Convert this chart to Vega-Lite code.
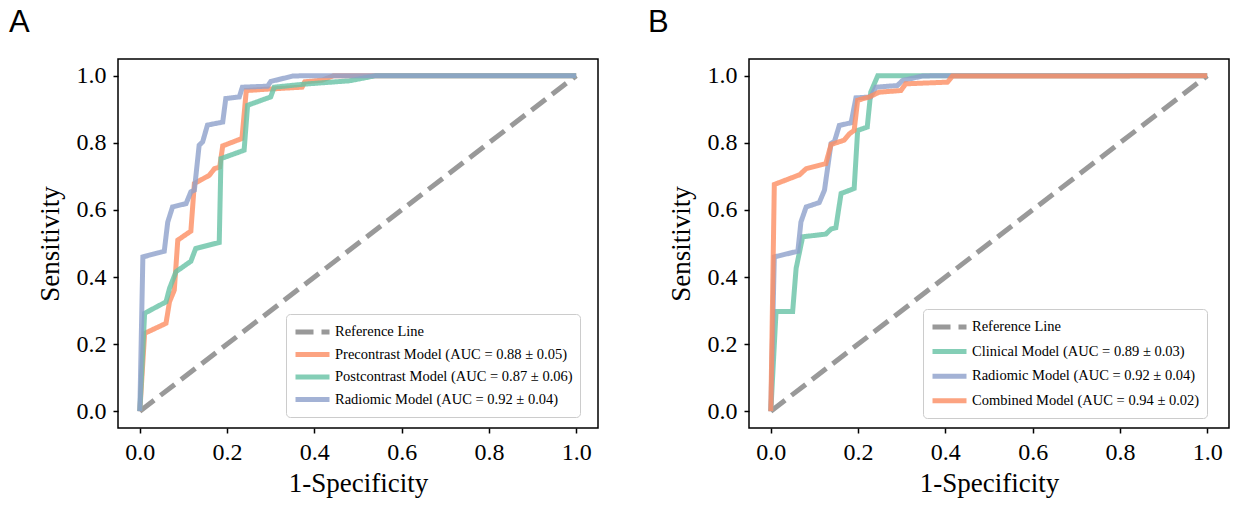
{
  "$schema": "https://vega.github.io/schema/vega-lite/v6.json",
  "background": "white",
  "padding": {"left": 8, "top": 6, "right": 5, "bottom": 2},
  "spacing": 48,
  "resolve": {"scale": {"color": "independent", "strokeDash": "independent"}, "legend": {"color": "independent", "strokeDash": "independent"}},
  "hconcat": [
    {
      "width": 480,
      "height": 369,
      "title": {"text": "A", "anchor": "start", "frame": "group", "dx": -109, "font": "Liberation Sans", "fontSize": 31, "fontWeight": "normal", "color": "black", "offset": 20},
      "data": {"values": [
        {"series": "Reference Line", "i": 0, "x": 0, "y": 0},
        {"series": "Reference Line", "i": 1, "x": 1, "y": 1},
        {"series": "Precontrast Model (AUC = 0.88 ± 0.05)", "i": 0, "x": 0, "y": 0},
        {"series": "Precontrast Model (AUC = 0.88 ± 0.05)", "i": 1, "x": 0.011, "y": 0.232},
        {"series": "Precontrast Model (AUC = 0.88 ± 0.05)", "i": 2, "x": 0.060, "y": 0.262},
        {"series": "Precontrast Model (AUC = 0.88 ± 0.05)", "i": 3, "x": 0.068, "y": 0.326},
        {"series": "Precontrast Model (AUC = 0.88 ± 0.05)", "i": 4, "x": 0.079, "y": 0.361},
        {"series": "Precontrast Model (AUC = 0.88 ± 0.05)", "i": 5, "x": 0.087, "y": 0.510},
        {"series": "Precontrast Model (AUC = 0.88 ± 0.05)", "i": 6, "x": 0.117, "y": 0.537},
        {"series": "Precontrast Model (AUC = 0.88 ± 0.05)", "i": 7, "x": 0.125, "y": 0.679},
        {"series": "Precontrast Model (AUC = 0.88 ± 0.05)", "i": 8, "x": 0.159, "y": 0.703},
        {"series": "Precontrast Model (AUC = 0.88 ± 0.05)", "i": 9, "x": 0.171, "y": 0.723},
        {"series": "Precontrast Model (AUC = 0.88 ± 0.05)", "i": 10, "x": 0.183, "y": 0.728},
        {"series": "Precontrast Model (AUC = 0.88 ± 0.05)", "i": 11, "x": 0.190, "y": 0.791},
        {"series": "Precontrast Model (AUC = 0.88 ± 0.05)", "i": 12, "x": 0.234, "y": 0.813},
        {"series": "Precontrast Model (AUC = 0.88 ± 0.05)", "i": 13, "x": 0.244, "y": 0.956},
        {"series": "Precontrast Model (AUC = 0.88 ± 0.05)", "i": 14, "x": 0.304, "y": 0.961},
        {"series": "Precontrast Model (AUC = 0.88 ± 0.05)", "i": 15, "x": 0.372, "y": 0.966},
        {"series": "Precontrast Model (AUC = 0.88 ± 0.05)", "i": 16, "x": 0.378, "y": 0.982},
        {"series": "Precontrast Model (AUC = 0.88 ± 0.05)", "i": 17, "x": 0.418, "y": 0.987},
        {"series": "Precontrast Model (AUC = 0.88 ± 0.05)", "i": 18, "x": 0.444, "y": 1.0},
        {"series": "Precontrast Model (AUC = 0.88 ± 0.05)", "i": 19, "x": 1, "y": 1},
        {"series": "Postcontrast Model (AUC = 0.87 ± 0.06)", "i": 0, "x": 0, "y": 0},
        {"series": "Postcontrast Model (AUC = 0.87 ± 0.06)", "i": 1, "x": 0.011, "y": 0.292},
        {"series": "Postcontrast Model (AUC = 0.87 ± 0.06)", "i": 2, "x": 0.060, "y": 0.326},
        {"series": "Postcontrast Model (AUC = 0.87 ± 0.06)", "i": 3, "x": 0.068, "y": 0.366},
        {"series": "Postcontrast Model (AUC = 0.87 ± 0.06)", "i": 4, "x": 0.083, "y": 0.416},
        {"series": "Postcontrast Model (AUC = 0.87 ± 0.06)", "i": 5, "x": 0.117, "y": 0.447},
        {"series": "Postcontrast Model (AUC = 0.87 ± 0.06)", "i": 6, "x": 0.128, "y": 0.485},
        {"series": "Postcontrast Model (AUC = 0.87 ± 0.06)", "i": 7, "x": 0.182, "y": 0.503},
        {"series": "Postcontrast Model (AUC = 0.87 ± 0.06)", "i": 8, "x": 0.186, "y": 0.753},
        {"series": "Postcontrast Model (AUC = 0.87 ± 0.06)", "i": 9, "x": 0.239, "y": 0.778},
        {"series": "Postcontrast Model (AUC = 0.87 ± 0.06)", "i": 10, "x": 0.247, "y": 0.912},
        {"series": "Postcontrast Model (AUC = 0.87 ± 0.06)", "i": 11, "x": 0.300, "y": 0.937},
        {"series": "Postcontrast Model (AUC = 0.87 ± 0.06)", "i": 12, "x": 0.308, "y": 0.966},
        {"series": "Postcontrast Model (AUC = 0.87 ± 0.06)", "i": 13, "x": 0.376, "y": 0.975},
        {"series": "Postcontrast Model (AUC = 0.87 ± 0.06)", "i": 14, "x": 0.480, "y": 0.985},
        {"series": "Postcontrast Model (AUC = 0.87 ± 0.06)", "i": 15, "x": 0.540, "y": 1.0},
        {"series": "Postcontrast Model (AUC = 0.87 ± 0.06)", "i": 16, "x": 1, "y": 1},
        {"series": "Radiomic Model (AUC = 0.92 ± 0.04)", "i": 0, "x": 0, "y": 0},
        {"series": "Radiomic Model (AUC = 0.92 ± 0.04)", "i": 1, "x": 0.007, "y": 0.460},
        {"series": "Radiomic Model (AUC = 0.92 ± 0.04)", "i": 2, "x": 0.056, "y": 0.477},
        {"series": "Radiomic Model (AUC = 0.92 ± 0.04)", "i": 3, "x": 0.064, "y": 0.564},
        {"series": "Radiomic Model (AUC = 0.92 ± 0.04)", "i": 4, "x": 0.075, "y": 0.609},
        {"series": "Radiomic Model (AUC = 0.92 ± 0.04)", "i": 5, "x": 0.106, "y": 0.619},
        {"series": "Radiomic Model (AUC = 0.92 ± 0.04)", "i": 6, "x": 0.117, "y": 0.654},
        {"series": "Radiomic Model (AUC = 0.92 ± 0.04)", "i": 7, "x": 0.125, "y": 0.659},
        {"series": "Radiomic Model (AUC = 0.92 ± 0.04)", "i": 8, "x": 0.136, "y": 0.793},
        {"series": "Radiomic Model (AUC = 0.92 ± 0.04)", "i": 9, "x": 0.144, "y": 0.803},
        {"series": "Radiomic Model (AUC = 0.92 ± 0.04)", "i": 10, "x": 0.155, "y": 0.853},
        {"series": "Radiomic Model (AUC = 0.92 ± 0.04)", "i": 11, "x": 0.190, "y": 0.862},
        {"series": "Radiomic Model (AUC = 0.92 ± 0.04)", "i": 12, "x": 0.197, "y": 0.932},
        {"series": "Radiomic Model (AUC = 0.92 ± 0.04)", "i": 13, "x": 0.228, "y": 0.937},
        {"series": "Radiomic Model (AUC = 0.92 ± 0.04)", "i": 14, "x": 0.235, "y": 0.966},
        {"series": "Radiomic Model (AUC = 0.92 ± 0.04)", "i": 15, "x": 0.293, "y": 0.969},
        {"series": "Radiomic Model (AUC = 0.92 ± 0.04)", "i": 16, "x": 0.300, "y": 0.983},
        {"series": "Radiomic Model (AUC = 0.92 ± 0.04)", "i": 17, "x": 0.350, "y": 0.999},
        {"series": "Radiomic Model (AUC = 0.92 ± 0.04)", "i": 18, "x": 0.370, "y": 1.0},
        {"series": "Radiomic Model (AUC = 0.92 ± 0.04)", "i": 19, "x": 1, "y": 1}
      ]},
      "mark": {"type": "line", "strokeWidth": 5, "opacity": 0.8, "strokeJoin": "miter"},
      "encoding": {
        "x": {"field": "x", "type": "quantitative", "scale": {"domain": [-0.05, 1.05], "nice": false, "zero": false}, "axis": {"values": [0, 0.2, 0.4, 0.6, 0.8, 1], "format": ".1f", "title": "1-Specificity"}},
        "y": {"field": "y", "type": "quantitative", "scale": {"domain": [-0.05, 1.05], "nice": false, "zero": false}, "axis": {"values": [0, 0.2, 0.4, 0.6, 0.8, 1], "format": ".1f", "title": "Sensitivity"}},
        "color": {"field": "series", "type": "nominal",
          "scale": {"domain": ["Reference Line", "Precontrast Model (AUC = 0.88 ± 0.05)", "Postcontrast Model (AUC = 0.87 ± 0.06)", "Radiomic Model (AUC = 0.92 ± 0.04)"], "range": ["#808080", "#fc8d62", "#66c2a5", "#8da0cb"]},
          "legend": {"title": null, "orient": "none", "legendX": 168, "legendY": 255, "rowPadding": 1.5}},
        "strokeDash": {"field": "series", "type": "nominal",
          "scale": {"domain": ["Reference Line", "Precontrast Model (AUC = 0.88 ± 0.05)", "Postcontrast Model (AUC = 0.87 ± 0.06)", "Radiomic Model (AUC = 0.92 ± 0.04)"], "range": [[18, 8], [1, 0], [1, 0], [1, 0]]},
          "legend": {"title": null, "orient": "none", "legendX": 168, "legendY": 255, "rowPadding": 1.5}},
        "order": {"field": "i", "type": "quantitative"}
      }
    },
    {
      "width": 480,
      "height": 369,
      "title": {"text": "B", "anchor": "start", "frame": "group", "dx": -101, "font": "Liberation Sans", "fontSize": 31, "fontWeight": "normal", "color": "black", "offset": 20},
      "data": {"values": [
        {"series": "Reference Line", "i": 0, "x": 0, "y": 0},
        {"series": "Reference Line", "i": 1, "x": 1, "y": 1},
        {"series": "Clinical Model (AUC = 0.89 ± 0.03)", "i": 0, "x": 0, "y": 0},
        {"series": "Clinical Model (AUC = 0.89 ± 0.03)", "i": 1, "x": 0.012, "y": 0.297},
        {"series": "Clinical Model (AUC = 0.89 ± 0.03)", "i": 2, "x": 0.050, "y": 0.297},
        {"series": "Clinical Model (AUC = 0.89 ± 0.03)", "i": 3, "x": 0.058, "y": 0.426},
        {"series": "Clinical Model (AUC = 0.89 ± 0.03)", "i": 4, "x": 0.073, "y": 0.520},
        {"series": "Clinical Model (AUC = 0.89 ± 0.03)", "i": 5, "x": 0.126, "y": 0.528},
        {"series": "Clinical Model (AUC = 0.89 ± 0.03)", "i": 6, "x": 0.138, "y": 0.543},
        {"series": "Clinical Model (AUC = 0.89 ± 0.03)", "i": 7, "x": 0.149, "y": 0.547},
        {"series": "Clinical Model (AUC = 0.89 ± 0.03)", "i": 8, "x": 0.161, "y": 0.649},
        {"series": "Clinical Model (AUC = 0.89 ± 0.03)", "i": 9, "x": 0.191, "y": 0.664},
        {"series": "Clinical Model (AUC = 0.89 ± 0.03)", "i": 10, "x": 0.199, "y": 0.837},
        {"series": "Clinical Model (AUC = 0.89 ± 0.03)", "i": 11, "x": 0.221, "y": 0.847},
        {"series": "Clinical Model (AUC = 0.89 ± 0.03)", "i": 12, "x": 0.229, "y": 0.951},
        {"series": "Clinical Model (AUC = 0.89 ± 0.03)", "i": 13, "x": 0.245, "y": 1.0},
        {"series": "Clinical Model (AUC = 0.89 ± 0.03)", "i": 14, "x": 1, "y": 1},
        {"series": "Radiomic Model (AUC = 0.92 ± 0.04)", "i": 0, "x": 0, "y": 0},
        {"series": "Radiomic Model (AUC = 0.92 ± 0.04)", "i": 1, "x": 0.008, "y": 0.460},
        {"series": "Radiomic Model (AUC = 0.92 ± 0.04)", "i": 2, "x": 0.062, "y": 0.477},
        {"series": "Radiomic Model (AUC = 0.92 ± 0.04)", "i": 3, "x": 0.069, "y": 0.564},
        {"series": "Radiomic Model (AUC = 0.92 ± 0.04)", "i": 4, "x": 0.081, "y": 0.609},
        {"series": "Radiomic Model (AUC = 0.92 ± 0.04)", "i": 5, "x": 0.111, "y": 0.622},
        {"series": "Radiomic Model (AUC = 0.92 ± 0.04)", "i": 6, "x": 0.123, "y": 0.659},
        {"series": "Radiomic Model (AUC = 0.92 ± 0.04)", "i": 7, "x": 0.138, "y": 0.798},
        {"series": "Radiomic Model (AUC = 0.92 ± 0.04)", "i": 8, "x": 0.146, "y": 0.805},
        {"series": "Radiomic Model (AUC = 0.92 ± 0.04)", "i": 9, "x": 0.157, "y": 0.852},
        {"series": "Radiomic Model (AUC = 0.92 ± 0.04)", "i": 10, "x": 0.184, "y": 0.860},
        {"series": "Radiomic Model (AUC = 0.92 ± 0.04)", "i": 11, "x": 0.195, "y": 0.934},
        {"series": "Radiomic Model (AUC = 0.92 ± 0.04)", "i": 12, "x": 0.229, "y": 0.937},
        {"series": "Radiomic Model (AUC = 0.92 ± 0.04)", "i": 13, "x": 0.241, "y": 0.966},
        {"series": "Radiomic Model (AUC = 0.92 ± 0.04)", "i": 14, "x": 0.290, "y": 0.971},
        {"series": "Radiomic Model (AUC = 0.92 ± 0.04)", "i": 15, "x": 0.302, "y": 0.986},
        {"series": "Radiomic Model (AUC = 0.92 ± 0.04)", "i": 16, "x": 0.347, "y": 0.999},
        {"series": "Radiomic Model (AUC = 0.92 ± 0.04)", "i": 17, "x": 0.370, "y": 1.0},
        {"series": "Radiomic Model (AUC = 0.92 ± 0.04)", "i": 18, "x": 1, "y": 1},
        {"series": "Combined Model (AUC = 0.94 ± 0.02)", "i": 0, "x": 0, "y": 0},
        {"series": "Combined Model (AUC = 0.94 ± 0.02)", "i": 1, "x": 0.008, "y": 0.676},
        {"series": "Combined Model (AUC = 0.94 ± 0.02)", "i": 2, "x": 0.066, "y": 0.705},
        {"series": "Combined Model (AUC = 0.94 ± 0.02)", "i": 3, "x": 0.081, "y": 0.723},
        {"series": "Combined Model (AUC = 0.94 ± 0.02)", "i": 4, "x": 0.126, "y": 0.738},
        {"series": "Combined Model (AUC = 0.94 ± 0.02)", "i": 5, "x": 0.138, "y": 0.795},
        {"series": "Combined Model (AUC = 0.94 ± 0.02)", "i": 6, "x": 0.168, "y": 0.808},
        {"series": "Combined Model (AUC = 0.94 ± 0.02)", "i": 7, "x": 0.180, "y": 0.827},
        {"series": "Combined Model (AUC = 0.94 ± 0.02)", "i": 8, "x": 0.191, "y": 0.837},
        {"series": "Combined Model (AUC = 0.94 ± 0.02)", "i": 9, "x": 0.199, "y": 0.927},
        {"series": "Combined Model (AUC = 0.94 ± 0.02)", "i": 10, "x": 0.226, "y": 0.937},
        {"series": "Combined Model (AUC = 0.94 ± 0.02)", "i": 11, "x": 0.248, "y": 0.951},
        {"series": "Combined Model (AUC = 0.94 ± 0.02)", "i": 12, "x": 0.298, "y": 0.956},
        {"series": "Combined Model (AUC = 0.94 ± 0.02)", "i": 13, "x": 0.309, "y": 0.976},
        {"series": "Combined Model (AUC = 0.94 ± 0.02)", "i": 14, "x": 0.405, "y": 0.981},
        {"series": "Combined Model (AUC = 0.94 ± 0.02)", "i": 15, "x": 0.416, "y": 0.999},
        {"series": "Combined Model (AUC = 0.94 ± 0.02)", "i": 16, "x": 1, "y": 1}
      ]},
      "mark": {"type": "line", "strokeWidth": 5, "opacity": 0.8, "strokeJoin": "miter"},
      "encoding": {
        "x": {"field": "x", "type": "quantitative", "scale": {"domain": [-0.05, 1.05], "nice": false, "zero": false}, "axis": {"values": [0, 0.2, 0.4, 0.6, 0.8, 1], "format": ".1f", "title": "1-Specificity"}},
        "y": {"field": "y", "type": "quantitative", "scale": {"domain": [-0.05, 1.05], "nice": false, "zero": false}, "axis": {"values": [0, 0.2, 0.4, 0.6, 0.8, 1], "format": ".1f", "title": "Sensitivity"}},
        "color": {"field": "series", "type": "nominal",
          "scale": {"domain": ["Reference Line", "Clinical Model (AUC = 0.89 ± 0.03)", "Radiomic Model (AUC = 0.92 ± 0.04)", "Combined Model (AUC = 0.94 ± 0.02)"], "range": ["#808080", "#66c2a5", "#8da0cb", "#fc8d62"]},
          "legend": {"title": null, "orient": "none", "legendX": 174, "legendY": 250, "rowPadding": 3.6}},
        "strokeDash": {"field": "series", "type": "nominal",
          "scale": {"domain": ["Reference Line", "Clinical Model (AUC = 0.89 ± 0.03)", "Radiomic Model (AUC = 0.92 ± 0.04)", "Combined Model (AUC = 0.94 ± 0.02)"], "range": [[18, 8], [1, 0], [1, 0], [1, 0]]},
          "legend": {"title": null, "orient": "none", "legendX": 174, "legendY": 250, "rowPadding": 3.6}},
        "order": {"field": "i", "type": "quantitative"}
      }
    }
  ],
  "config": {
    "view": {"stroke": "black", "strokeWidth": 1.5},
    "axis": {"labelFont": "Liberation Serif", "labelFontSize": 24, "labelColor": "black", "labelPadding": 7, "titleFont": "Liberation Serif", "titleFontSize": 27, "titleFontWeight": "normal", "titleColor": "black", "tickColor": "black", "tickSize": 5, "tickWidth": 1.5, "grid": false, "domain": false},
    "axisX": {"titlePadding": 6},
    "axisY": {"titlePadding": 12},
    "legend": {"symbolType": "M-1,0H3", "symbolSize": 289, "symbolStrokeWidth": 5, "symbolOpacity": 0.8, "labelFont": "Liberation Serif", "labelFontSize": 14.5, "labelColor": "black", "labelLimit": 400, "labelOffset": 20, "strokeColor": "#cccccc", "fillColor": "white", "cornerRadius": 4, "padding": 7}
  }
}
